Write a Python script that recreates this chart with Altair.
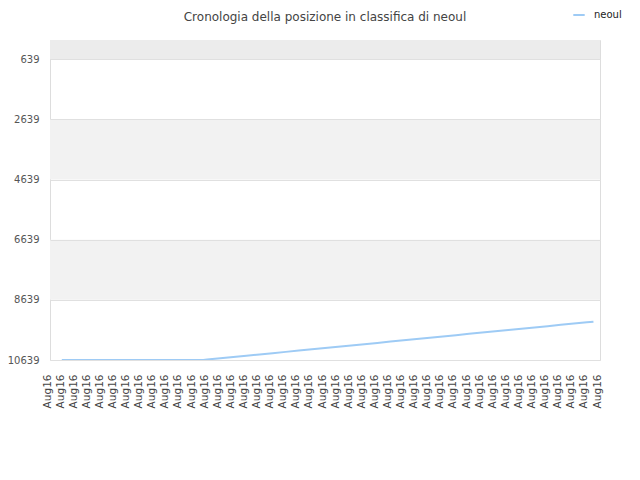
import altair as alt
import pandas as pd

# ---- data ----
series_name = "neoul"
positions = [0.9, 2, 3, 4, 5, 6, 7, 8, 9, 10, 11, 11.7,
             12, 13, 14, 15, 16, 17, 18, 19, 20, 21, 22, 23, 24, 25, 26,
             27, 28, 29, 30, 31, 32, 33, 34, 35, 36, 37, 38, 39, 40, 41, 41.5]
ranks = [10639, 10639, 10639, 10639, 10639, 10639, 10639, 10639, 10639, 10639, 10639, 10639,
         10626, 10583, 10540, 10497, 10455, 10412, 10369, 10326, 10283, 10241, 10198, 10155,
         10112, 10070, 10027, 9984, 9941, 9898, 9855, 9813, 9770, 9727, 9685, 9642,
         9599, 9556, 9514, 9471, 9428, 9385, 9364]
tick_positions = list(range(43))
tick_labels = ["Aug16"] * 43
y_ticks = [639, 2639, 4639, 6639, 8639, 10639]
band_start = [0, 2639, 6639]
band_end = [639, 4639, 8639]
band_colors = ["#ececec", "#f2f2f2", "#f2f2f2"]

line_df = pd.DataFrame({"pos": positions, "rank": ranks, "series": series_name})
band_df = pd.DataFrame({"y0": band_start, "y1": band_end, "fillc": band_colors})

xscale = alt.Scale(domain=[0, 42], nice=False, zero=False)
yscale = alt.Scale(domain=[0, 10639], reverse=True, nice=False, zero=False)

FONT = "DejaVu Sans"
label_expr = "['" + "','".join(tick_labels) + "'][datum.value]"

x_axis = alt.Axis(
    values=tick_positions,
    labelExpr=label_expr,
    labelAngle=-90,
    labelAlign="right",
    labelBaseline="middle",
    labelFont=FONT,
    labelFontSize=10.5,
    labelColor="#444444",
    labelPadding=14,
    labelOffset=-3,
    labelOverlap=False,
    labelBound=False,
    ticks=False,
    domain=False,
    grid=False,
)
y_axis = alt.Axis(
    values=y_ticks,
    format="d",
    labelFont=FONT,
    labelFontSize=10,
    labelColor="#555555",
    labelPadding=11,
    labelOverlap=False,
    ticks=False,
    domain=False,
    grid=True,
    gridColor="#e0e0e0",
    zindex=1,
)

bands = alt.Chart(band_df).mark_rect().encode(
    x=alt.X(datum=0, scale=xscale, axis=x_axis, title=None),
    x2=alt.X2(datum=42),
    y=alt.Y("y0:Q", scale=yscale, axis=y_axis, title=None),
    y2="y1:Q",
    fill=alt.Fill("fillc:N", scale=None),
)

line = alt.Chart(line_df).mark_line(strokeWidth=2).encode(
    x=alt.X("pos:Q", scale=xscale, title=None, axis=x_axis),
    y=alt.Y("rank:Q", scale=yscale, title=None, axis=y_axis),
    color=alt.Color(
        "series:N",
        scale=alt.Scale(range=["#9ecbf5"]),
        legend=alt.Legend(
            title=None,
            orient="none",
            legendX=522,
            legendY=-32,
            symbolType="stroke",
            symbolStrokeWidth=2,
            symbolSize=130,
            labelFont=FONT,
            labelFontSize=10,
            labelColor="#222222",
            labelOffset=8,
            padding=0,
        ),
    ),
)

chart = alt.layer(bands, line).properties(
    width=550,
    height=320,
    autosize="none",
    padding={"left": 42, "top": 32, "right": 26, "bottom": 110},
    title=alt.TitleParams(
        text="Cronologia della posizione in classifica di neoul",
        font=FONT,
        fontSize=12,
        fontWeight="normal",
        color="#444444",
        anchor="middle",
        offset=0,
        dy=16,
    ),
).configure_view(stroke="#dddddd")

chart.save("out.html", embed_options={"renderer": "svg", "actions": False})
